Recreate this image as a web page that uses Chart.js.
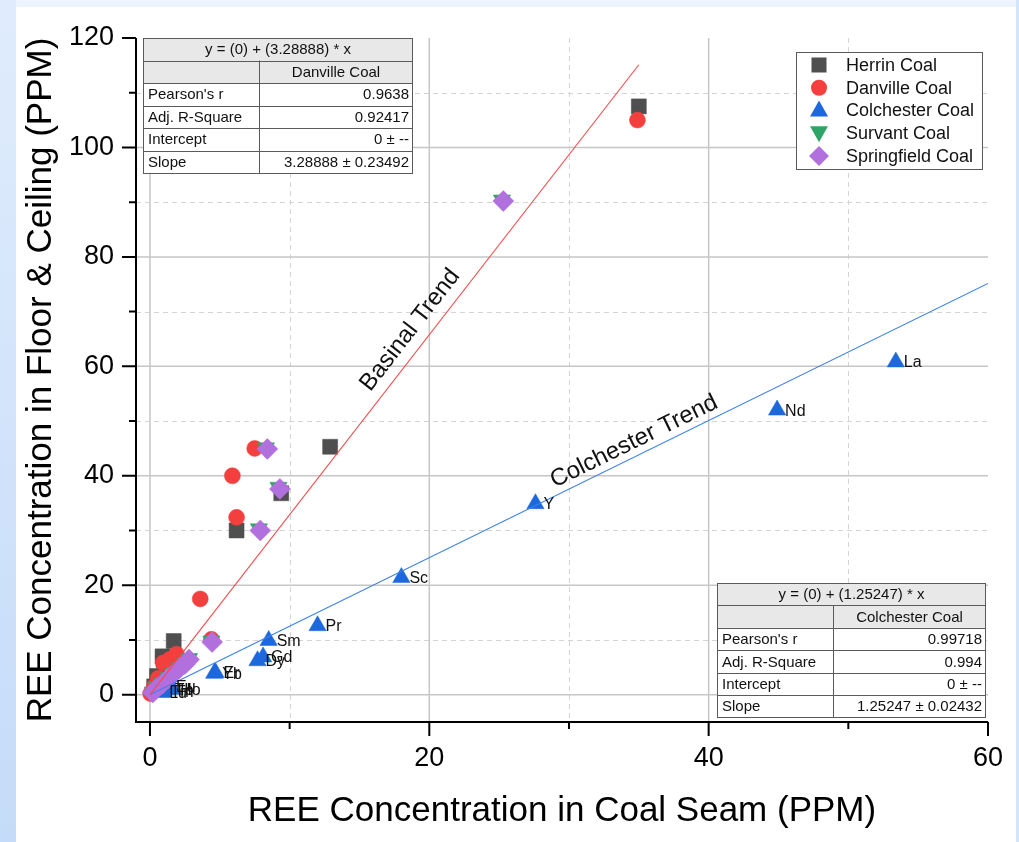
<!DOCTYPE html>
<html>
<head>
<meta charset="utf-8">
<title>REE Concentration</title>
<script src="https://cdn.jsdelivr.net/npm/chart.js@4.4.1/dist/chart.umd.min.js"></script>
<style>
  html, body { margin: 0; padding: 0; }
  body { width: 1019px; height: 842px; position: relative; overflow: hidden; background: #eef4fd; }
  #edgeL { position: absolute; left: 0; top: 0; width: 16px; height: 842px; background: linear-gradient(#e0ecfc, #c4dbf9); }
  #edgeR { position: absolute; right: 0; top: 0; width: 3px; height: 842px; background: #d4e5fb; }
  #panel { position: absolute; left: 16px; top: 7px; width: 1000px; height: 835px; background: #ffffff; }
  #chart { position: absolute; left: 0; top: 0; }
</style>
</head>
<body>
<div id="edgeL"></div>
<div id="edgeR"></div>
<div id="panel"></div>
<canvas id="chart" width="1019" height="842"></canvas>
<script>
// ---- series values (PPM: coal seam vs. floor & ceiling) ----
const seriesNames = ['Herrin Coal', 'Danville Coal', 'Colchester Coal', 'Survant Coal', 'Springfield Coal'];

const herrinX = [35.0, 12.9, 9.4, 6.2, 1.7, 0.9, 1.0, 0.5, 0.3];
const herrinY = [107.5, 45.3, 36.8, 30.0, 9.8, 7.0, 6.2, 3.4, 1.5];

const danvilleX = [34.9, 7.5, 5.9, 6.2, 3.6, 4.4, 1.9, 1.4, 0.95, 0.6, 0.3, 0.05];
const danvilleY = [105.0, 45.0, 40.0, 32.4, 17.5, 10.1, 7.4, 6.4, 5.8, 3.0, 1.5, 0.2];

const colchesterX = [53.4, 44.9, 27.6, 18.0, 12.0, 8.5, 8.1, 7.7, 4.7, 4.6, 1.3, 1.6, 1.2, 0.9, 0.8];
const colchesterY = [60.8, 52.0, 34.9, 21.4, 12.6, 9.9, 6.9, 6.2, 4.0, 3.9, 1.5, 1.0, 0.9, 0.5, 0.4];
const colchesterElements = ['La', 'Nd', 'Y', 'Sc', 'Pr', 'Sm', 'Gd', 'Dy', 'Er', 'Yb', 'Eu', 'Ho', 'Tb', 'Tm', 'Lu'];

const survantX = [25.2, 8.3, 9.2, 7.8, 4.4, 2.8, 2.5, 2.1, 1.7, 1.3, 0.9, 0.5, 0.2];
const survantY = [90.4, 45.1, 37.9, 30.3, 9.8, 6.6, 5.8, 4.9, 3.9, 3.1, 2.1, 1.3, 0.5];

const springfieldX = [25.3, 8.4, 9.3, 7.9, 4.45, 2.8, 2.5, 2.1, 1.7, 1.3, 0.9, 0.5, 0.2];
const springfieldY = [90.2, 44.9, 37.6, 30.0, 9.6, 6.4, 5.6, 4.8, 3.8, 3.0, 2.0, 1.2, 0.4];

// ---- linear fits through the origin ----
const trendNames = ['Basinal Trend', 'Colchester Trend'];
const basinalSlope = 3.28888;
const colchesterSlope = 1.25247;
const basinalRange = [0, 35];
const colchesterRange = [0, 60];

// ---- fit summary tables ----
const basinalTitle = 'y = (0) + (3.28888) * x';
const basinalColumn = 'Danville Coal';
const basinalRows = [["Pearson's r", '0.9638'], ['Adj. R-Square', '0.92417'], ['Intercept', '0 \u00b1 --'], ['Slope', '3.28888 \u00b1 0.23492']];
const colchesterTitle = 'y = (0) + (1.25247) * x';
const colchesterColumn = 'Colchester Coal';
const colchesterRows = [["Pearson's r", '0.99718'], ['Adj. R-Square', '0.994'], ['Intercept', '0 \u00b1 --'], ['Slope', '1.25247 \u00b1 0.02432']];

// ---- axes ----
const xTickValues = [0, 10, 20, 30, 40, 50, 60];
const xTickLabels = ['0', '', '20', '', '40', '', '60'];
const yTickValues = [0, 10, 20, 30, 40, 50, 60, 70, 80, 90, 100, 110, 120];
const yTickLabels = ['0', '', '20', '', '40', '', '60', '', '80', '', '100', '', '120'];
const xGridSolid = [0, 20, 40];
const xGridDashed = [10, 30, 50];
const yGridSolid = [0, 20, 40, 60, 80, 100];
const yGridDashed = [10, 30, 50, 70, 90, 110];
const xTitle = 'REE Concentration in Coal Seam (PPM)';
const yTitle = 'REE Concentration in Floor & Ceiling (PPM)';

const FONT = "'Liberation Sans', Arial, sans-serif";
const COLORS = ['#4f4f4f', '#f43f3f', '#1d68dc', '#2ea566', '#b26fde'];
const RED_LINE = '#f04c4c';
const BLUE_LINE = '#3a80ea';

const zip = (xs, ys) => xs.map((v, i) => ({ x: v, y: ys[i] }));
const fitLine = (slope, range) => range.map(v => ({ x: v, y: slope * v }));

const markerStyle = [
  { pointStyle: 'rect', pointRadius: 10.6, pointRotation: 0 },
  { pointStyle: 'circle', pointRadius: 8, pointRotation: 0 },
  { pointStyle: 'triangle', pointRadius: 10, pointRotation: 0 },
  { pointStyle: 'triangle', pointRadius: 10, pointRotation: 180 },
  { pointStyle: 'rectRot', pointRadius: 10.5, pointRotation: 0 }
];

function scatterSet(i, data, order) {
  return {
    type: 'scatter', label: seriesNames[i], data, order,
    backgroundColor: COLORS[i], borderColor: COLORS[i], borderWidth: 0.5,
    pointBackgroundColor: COLORS[i], pointBorderColor: COLORS[i], pointBorderWidth: 0.5,
    pointStyle: markerStyle[i].pointStyle, pointRadius: markerStyle[i].pointRadius,
    pointRotation: markerStyle[i].pointRotation, pointHoverRadius: markerStyle[i].pointRadius
  };
}

const datasets = [
  scatterSet(0, zip(herrinX, herrinY), 7),
  scatterSet(1, zip(danvilleX, danvilleY), 6),
  scatterSet(2, zip(colchesterX, colchesterY), 5),
  scatterSet(3, zip(survantX, survantY), 4),
  scatterSet(4, zip(springfieldX, springfieldY), 3),
  { type: 'line', label: trendNames[0], data: fitLine(basinalSlope, basinalRange), order: 1,
    borderColor: RED_LINE, borderWidth: 1.1, pointRadius: 0, fill: false },
  { type: 'line', label: trendNames[1], data: fitLine(colchesterSlope, colchesterRange), order: 2,
    borderColor: BLUE_LINE, borderWidth: 1.1, pointRadius: 0, fill: false }
];

// small marker painter for the legend
function paintMarker(ctx, kind, cx, cy, color) {
  ctx.save();
  ctx.fillStyle = color;
  ctx.beginPath();
  if (kind === 0) {
    ctx.rect(cx - 7.5, cy - 7.5, 15, 15);
  } else if (kind === 1) {
    ctx.arc(cx, cy, 8, 0, Math.PI * 2);
  } else if (kind === 2) {
    ctx.moveTo(cx, cy - 10); ctx.lineTo(cx + 9, cy + 6); ctx.lineTo(cx - 9, cy + 6);
  } else if (kind === 3) {
    ctx.moveTo(cx, cy + 9); ctx.lineTo(cx + 9, cy - 7); ctx.lineTo(cx - 9, cy - 7);
  } else {
    ctx.moveTo(cx, cy - 10); ctx.lineTo(cx + 10, cy); ctx.lineTo(cx, cy + 10); ctx.lineTo(cx - 10, cy);
  }
  ctx.closePath();
  ctx.fill();
  ctx.restore();
}

function drawTable(ctx, left, top, w1, w2, rowH, title, column, rows) {
  const w = w1 + w2;
  const n = rows.length + 2;
  ctx.save();
  ctx.fillStyle = '#ffffff';
  ctx.fillRect(left, top, w, rowH * n);
  ctx.fillStyle = '#e8e8e8';
  ctx.fillRect(left, top, w, rowH * 2);
  ctx.strokeStyle = '#5a5a5a';
  ctx.lineWidth = 1;
  ctx.beginPath();
  for (let r = 0; r <= n; r++) {
    const yy = Math.round(top + r * rowH) + 0.5;
    ctx.moveTo(left, yy); ctx.lineTo(left + w, yy);
  }
  ctx.moveTo(left + 0.5, top); ctx.lineTo(left + 0.5, top + rowH * n);
  ctx.moveTo(left + w - 0.5, top); ctx.lineTo(left + w - 0.5, top + rowH * n);
  ctx.moveTo(left + w1 + 0.5, top + rowH); ctx.lineTo(left + w1 + 0.5, top + rowH * n);
  ctx.stroke();
  ctx.fillStyle = '#111';
  ctx.font = '15px ' + FONT;
  ctx.textBaseline = 'middle';
  ctx.textAlign = 'center';
  ctx.fillText(title, left + w / 2, top + rowH / 2 + 1);
  ctx.fillText(column, left + w1 + w2 / 2, top + rowH * 1.5 + 1);
  rows.forEach((row, i) => {
    const cy = top + rowH * (i + 2.5) + 1;
    ctx.textAlign = 'left';
    ctx.fillText(row[0], left + 5, cy);
    ctx.textAlign = 'right';
    ctx.fillText(row[1], left + w - 4, cy);
  });
  ctx.restore();
}

function trendLabel(chart, text, slope, atX, offset) {
  const { ctx, scales: { x, y } } = chart;
  const px = x.getPixelForValue(atX), py = y.getPixelForValue(slope * atX);
  const qx = x.getPixelForValue(atX + 1), qy = y.getPixelForValue(slope * (atX + 1));
  const ang = Math.atan2(qy - py, qx - px);
  ctx.save();
  ctx.translate(px, py);
  ctx.rotate(ang);
  ctx.font = '24px ' + FONT;
  ctx.fillStyle = '#111';
  ctx.textAlign = 'center';
  ctx.textBaseline = 'middle';
  ctx.fillText(text, 0, -offset);
  ctx.restore();
}

const decor = {
  id: 'decor',
  beforeDatasetsDraw(chart) {
    const { ctx, chartArea: a, scales: { x, y } } = chart;
    ctx.save();
    ctx.strokeStyle = '#d4d4d4';
    ctx.lineWidth = 1;
    ctx.setLineDash([5, 4]);
    ctx.beginPath();
    xGridDashed.forEach(v => { const p = Math.round(x.getPixelForValue(v)) + 0.5; ctx.moveTo(p, a.top); ctx.lineTo(p, a.bottom); });
    yGridDashed.forEach(v => { const p = Math.round(y.getPixelForValue(v)) + 0.5; ctx.moveTo(a.left, p); ctx.lineTo(a.right, p); });
    ctx.stroke();
    ctx.setLineDash([]);
    ctx.strokeStyle = '#c6c6c6';
    ctx.lineWidth = 1.5;
    ctx.beginPath();
    xGridSolid.forEach(v => { const p = x.getPixelForValue(v); ctx.moveTo(p, a.top); ctx.lineTo(p, a.bottom); });
    yGridSolid.forEach(v => { const p = y.getPixelForValue(v); ctx.moveTo(a.left, p); ctx.lineTo(a.right, p); });
    ctx.stroke();
    ctx.restore();
  },
  afterDatasetsDraw(chart) {
    const { ctx, chartArea: a, scales: { x, y } } = chart;

    // element labels beside the Colchester triangles
    const meta = chart.getDatasetMeta(2);
    ctx.save();
    ctx.font = '16px ' + FONT;
    ctx.fillStyle = '#111';
    ctx.textAlign = 'left';
    ctx.textBaseline = 'middle';
    meta.data.forEach((el, i) => ctx.fillText(colchesterElements[i], el.x + 8, el.y + 1));
    ctx.restore();

    // trend line captions
    trendLabel(chart, trendNames[0], basinalSlope, 19.65, 18);
    trendLabel(chart, trendNames[1], colchesterSlope, 35.1, 14);

    // axis lines and tick marks
    ctx.save();
    ctx.strokeStyle = '#000';
    ctx.lineWidth = 2;
    ctx.beginPath();
    ctx.moveTo(a.left, a.top); ctx.lineTo(a.left, a.bottom + 1);
    ctx.moveTo(a.left - 1, a.bottom); ctx.lineTo(a.right, a.bottom);
    xTickValues.forEach((v, i) => {
      const p = x.getPixelForValue(v);
      ctx.moveTo(p, a.bottom); ctx.lineTo(p, a.bottom + (xTickLabels[i] ? 14 : 7));
    });
    yTickValues.forEach((v, i) => {
      const p = y.getPixelForValue(v);
      ctx.moveTo(a.left, p); ctx.lineTo(a.left - (yTickLabels[i] ? 14 : 7), p);
    });
    ctx.stroke();
    ctx.restore();

    // fit tables
    drawTable(ctx, 143, 38, 116, 154, 22.5, basinalTitle, basinalColumn, basinalRows);
    drawTable(ctx, 717, 583, 116, 153, 22.4, colchesterTitle, colchesterColumn, colchesterRows);

    // legend
    ctx.save();
    ctx.fillStyle = '#fff';
    ctx.fillRect(796, 52, 186, 117);
    ctx.strokeStyle = '#5a5a5a';
    ctx.lineWidth = 1;
    ctx.strokeRect(796.5, 52.5, 186, 117);
    ctx.font = '18px ' + FONT;
    ctx.fillStyle = '#111';
    ctx.textAlign = 'left';
    ctx.textBaseline = 'middle';
    seriesNames.forEach((name, i) => {
      const cy = 65 + i * 22.75;
      paintMarker(ctx, i, 819, cy, COLORS[i]);
      ctx.fillStyle = '#111';
      ctx.fillText(name, 846, cy + 1);
    });
    ctx.restore();
  }
};

new Chart(document.getElementById('chart'), {
  type: 'scatter',
  data: { datasets },
  options: {
    responsive: false,
    devicePixelRatio: 1,
    animation: false,
    events: [],
    layout: { padding: { left: 14, right: 31, top: 38, bottom: 10 } },
    plugins: { legend: { display: false }, tooltip: { enabled: false } },
    scales: {
      x: {
        type: 'linear', min: -1, max: 60,
        afterBuildTicks: s => { s.ticks = xTickValues.map(v => ({ value: v })); },
        afterFit: s => { s.height = 110; },
        ticks: {
          autoSkip: false, maxRotation: 0, padding: 12, color: '#000',
          font: { family: FONT, size: 27 },
          callback: (v, i) => xTickLabels[i]
        },
        grid: { display: false },
        border: { display: false },
        title: { display: true, text: xTitle, color: '#000', font: { family: FONT, size: 35 }, padding: { top: 0, bottom: 0 } }
      },
      y: {
        type: 'linear', min: -5, max: 120,
        afterBuildTicks: s => { s.ticks = yTickValues.map(v => ({ value: v })); },
        afterFit: s => { s.width = 122; },
        ticks: {
          autoSkip: false, padding: 14, color: '#000',
          font: { family: FONT, size: 27 },
          callback: (v, i) => yTickLabels[i]
        },
        grid: { display: false },
        border: { display: false },
        title: { display: true, text: yTitle, color: '#000', font: { family: FONT, size: 35 }, padding: { top: 6, bottom: 0 } }
      }
    }
  },
  plugins: [decor]
});
</script>
</body>
</html>
